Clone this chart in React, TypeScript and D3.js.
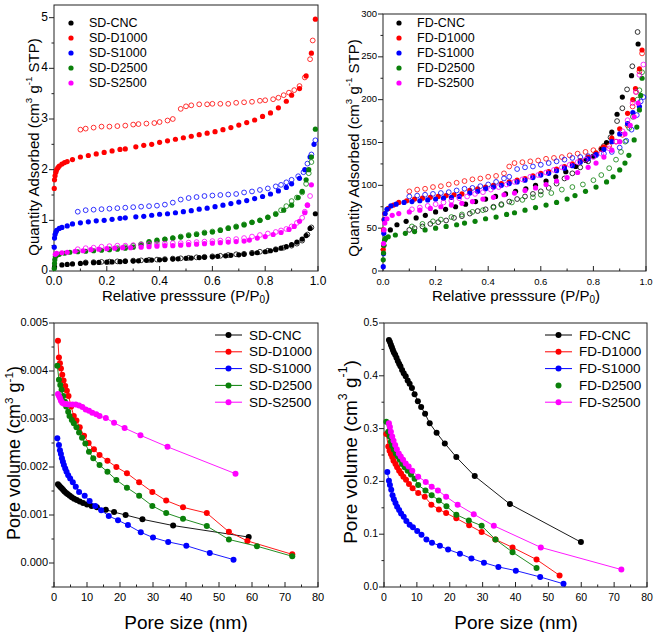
import React from 'react';
import * as d3 from 'd3';

// ---- top-left: SD isotherms, [P/P0, quantity] ----
const sdCncAds = [[0.002,0.08],[0.03,0.12],[0.05,0.13],[0.07,0.14],[0.1,0.15],[0.12,0.16],[0.15,0.165],[0.17,0.17],[0.2,0.175],[0.22,0.18],[0.25,0.185],[0.27,0.19],[0.3,0.195],[0.32,0.2],[0.35,0.21],[0.37,0.215],[0.4,0.22],[0.42,0.225],[0.45,0.235],[0.47,0.24],[0.5,0.25],[0.52,0.255],[0.55,0.265],[0.57,0.27],[0.6,0.28],[0.62,0.29],[0.65,0.3],[0.67,0.31],[0.7,0.32],[0.72,0.33],[0.75,0.345],[0.77,0.36],[0.8,0.38],[0.82,0.4],[0.84,0.42],[0.86,0.45],[0.88,0.48],[0.9,0.52],[0.92,0.57],[0.94,0.63],[0.955,0.7],[0.97,0.84],[0.99,1.13]];
const sdCncDes = [[0.975,0.86],[0.96,0.72],[0.94,0.6],[0.92,0.54],[0.9,0.5],[0.87,0.46],[0.84,0.43],[0.81,0.4],[0.78,0.38],[0.75,0.36],[0.72,0.34],[0.69,0.33],[0.66,0.315],[0.63,0.3],[0.6,0.29],[0.57,0.28],[0.54,0.27],[0.51,0.26],[0.48,0.25],[0.45,0.245],[0.42,0.235],[0.39,0.225],[0.36,0.22],[0.33,0.21],[0.3,0.205],[0.27,0.195],[0.24,0.19],[0.21,0.185],[0.18,0.18],[0.15,0.175],[0.12,0.17]];
const sdD1000Ads = [[0.001,1.63],[0.002,1.8],[0.004,1.88],[0.007,1.95],[0.01,2.0],[0.015,2.04],[0.02,2.07],[0.03,2.11],[0.04,2.14],[0.05,2.16],[0.07,2.2],[0.1,2.25],[0.13,2.28],[0.16,2.31],[0.19,2.34],[0.22,2.37],[0.25,2.4],[0.27,2.41],[0.31,2.45],[0.34,2.48],[0.37,2.5],[0.4,2.54],[0.43,2.57],[0.46,2.6],[0.49,2.63],[0.52,2.66],[0.55,2.69],[0.58,2.72],[0.61,2.75],[0.64,2.79],[0.67,2.83],[0.7,2.88],[0.73,2.93],[0.76,2.98],[0.79,3.05],[0.82,3.12],[0.85,3.22],[0.88,3.35],[0.9,3.47],[0.93,3.6],[0.955,3.85],[0.975,4.3],[0.99,4.97]];
const sdD1000Des = [[0.98,4.55],[0.97,4.18],[0.95,3.82],[0.93,3.65],[0.91,3.57],[0.89,3.52],[0.87,3.47],[0.85,3.42],[0.83,3.39],[0.8,3.37],[0.78,3.36],[0.75,3.34],[0.72,3.33],[0.69,3.32],[0.66,3.3],[0.63,3.3],[0.6,3.3],[0.58,3.29],[0.55,3.29],[0.52,3.27],[0.5,3.25],[0.48,3.2],[0.45,3.0],[0.43,2.97],[0.4,2.94],[0.38,2.92],[0.35,2.91],[0.32,2.9],[0.3,2.89],[0.27,2.87],[0.24,2.86],[0.21,2.85],[0.18,2.85],[0.15,2.83],[0.12,2.81],[0.1,2.79]];
const sdS1000Ads = [[0.001,0.47],[0.002,0.65],[0.004,0.72],[0.007,0.77],[0.01,0.8],[0.02,0.84],[0.03,0.86],[0.05,0.89],[0.07,0.93],[0.1,0.95],[0.13,0.97],[0.16,0.99],[0.19,1.0],[0.22,1.02],[0.25,1.04],[0.27,1.05],[0.31,1.07],[0.34,1.08],[0.37,1.1],[0.4,1.12],[0.43,1.13],[0.46,1.15],[0.49,1.17],[0.52,1.19],[0.55,1.22],[0.58,1.24],[0.61,1.27],[0.64,1.3],[0.67,1.33],[0.7,1.36],[0.73,1.39],[0.76,1.43],[0.79,1.47],[0.82,1.52],[0.85,1.58],[0.88,1.65],[0.9,1.72],[0.93,1.83],[0.95,2.0],[0.97,2.25],[0.985,2.5]];
const sdS1000Des = [[0.99,2.58],[0.975,2.3],[0.96,2.12],[0.945,1.95],[0.925,1.87],[0.9,1.8],[0.88,1.75],[0.86,1.7],[0.84,1.67],[0.81,1.63],[0.78,1.6],[0.75,1.57],[0.72,1.55],[0.69,1.52],[0.66,1.51],[0.63,1.5],[0.6,1.49],[0.57,1.48],[0.54,1.46],[0.51,1.44],[0.48,1.41],[0.45,1.35],[0.42,1.31],[0.39,1.29],[0.36,1.28],[0.33,1.27],[0.3,1.26],[0.27,1.25],[0.24,1.24],[0.21,1.23],[0.18,1.22],[0.15,1.21],[0.12,1.2],[0.09,1.17]];
const sdD2500Ads = [[0.001,0.05],[0.002,0.15],[0.003,0.22],[0.005,0.28],[0.01,0.31],[0.02,0.33],[0.04,0.35],[0.06,0.37],[0.09,0.38],[0.12,0.39],[0.15,0.4],[0.18,0.41],[0.21,0.42],[0.24,0.43],[0.27,0.45],[0.3,0.47],[0.33,0.52],[0.36,0.58],[0.39,0.61],[0.42,0.63],[0.45,0.65],[0.48,0.67],[0.51,0.7],[0.54,0.72],[0.57,0.75],[0.6,0.77],[0.63,0.8],[0.66,0.84],[0.69,0.87],[0.72,0.91],[0.75,0.96],[0.78,1.0],[0.81,1.06],[0.84,1.12],[0.87,1.2],[0.9,1.3],[0.925,1.45],[0.94,1.57],[0.955,1.8],[0.965,2.0],[0.975,2.25],[0.99,2.8]];
const sdD2500Des = [[0.975,2.15],[0.965,1.93],[0.955,1.72],[0.94,1.55],[0.92,1.45],[0.9,1.38],[0.88,1.28],[0.86,1.2],[0.84,1.13],[0.81,1.06],[0.78,1.0],[0.75,0.96],[0.72,0.92],[0.69,0.88],[0.66,0.85],[0.63,0.81],[0.6,0.78],[0.57,0.76],[0.54,0.73],[0.51,0.71],[0.48,0.68],[0.45,0.65],[0.42,0.62],[0.39,0.59],[0.36,0.56],[0.33,0.53],[0.3,0.5],[0.27,0.47],[0.24,0.45],[0.21,0.43]];
const sdS2500Ads = [[0.005,0.33],[0.01,0.35],[0.03,0.36],[0.05,0.37],[0.08,0.39],[0.11,0.4],[0.14,0.42],[0.17,0.43],[0.2,0.44],[0.23,0.45],[0.26,0.46],[0.29,0.46],[0.33,0.47],[0.36,0.48],[0.39,0.49],[0.42,0.5],[0.45,0.5],[0.48,0.51],[0.51,0.52],[0.54,0.53],[0.57,0.54],[0.6,0.55],[0.63,0.56],[0.66,0.57],[0.69,0.58],[0.72,0.59],[0.74,0.61],[0.77,0.65],[0.8,0.68],[0.83,0.72],[0.86,0.76],[0.89,0.82],[0.91,0.88],[0.93,0.98],[0.95,1.15],[0.96,1.3],[0.975,1.7]];
const sdS2500Des = [[0.97,1.48],[0.96,1.3],[0.95,1.17],[0.94,1.05],[0.92,0.95],[0.9,0.88],[0.88,0.83],[0.86,0.8],[0.84,0.77],[0.81,0.74],[0.78,0.71],[0.75,0.68],[0.72,0.65],[0.69,0.63],[0.66,0.62],[0.63,0.6],[0.6,0.59],[0.57,0.58],[0.54,0.57],[0.51,0.56],[0.48,0.55],[0.45,0.55],[0.42,0.54],[0.39,0.53],[0.36,0.53],[0.33,0.52],[0.3,0.51],[0.27,0.5],[0.24,0.5],[0.21,0.49],[0.18,0.48],[0.15,0.46],[0.12,0.45],[0.09,0.43]];

// ---- top-right: FD isotherms ----
const fdCncAds = [[0.003,30],[0.028,48],[0.053,54],[0.088,58],[0.126,62],[0.161,65],[0.2,69],[0.238,72],[0.276,75],[0.314,78],[0.352,81],[0.39,84],[0.428,87],[0.466,90],[0.504,93],[0.543,96],[0.58,100],[0.62,105],[0.657,110],[0.695,116],[0.733,122],[0.771,129],[0.8,134],[0.83,142],[0.85,150],[0.87,162],[0.89,183],[0.91,203],[0.945,228],[0.97,265]];
const fdCncDes = [[0.968,279],[0.948,239],[0.928,212],[0.91,190],[0.89,175],[0.865,156],[0.84,146],[0.81,137],[0.78,128],[0.75,121],[0.72,114],[0.69,108],[0.66,102],[0.63,97],[0.6,93],[0.57,90],[0.54,87],[0.51,84],[0.48,81],[0.45,78],[0.42,75],[0.39,72],[0.36,70],[0.33,67],[0.3,64],[0.27,62],[0.24,59],[0.21,57],[0.18,55],[0.15,52],[0.12,50],[0.1,48]];
const fdD1000Ads = [[0.001,25],[0.002,48],[0.004,60],[0.007,67],[0.02,73],[0.04,77],[0.06,80],[0.09,82],[0.12,84],[0.15,85],[0.18,86],[0.21,87],[0.24,88],[0.27,89],[0.3,90],[0.33,94],[0.36,96],[0.39,98],[0.42,100],[0.45,102],[0.48,104],[0.51,106],[0.54,108],[0.57,111],[0.6,114],[0.63,116],[0.66,119],[0.69,122],[0.72,125],[0.75,129],[0.78,133],[0.81,138],[0.84,145],[0.87,155],[0.9,166],[0.93,184],[0.95,200],[0.96,213],[0.975,236],[0.985,258]];
const fdD1000Des = [[0.985,254],[0.975,233],[0.962,209],[0.949,192],[0.93,170],[0.911,159],[0.886,151],[0.86,146],[0.83,143],[0.8,141],[0.77,139],[0.74,137],[0.71,135],[0.68,133],[0.65,132],[0.62,131],[0.59,129],[0.56,128],[0.53,127],[0.5,126],[0.48,122],[0.46,114],[0.43,111],[0.4,110],[0.37,108],[0.34,107],[0.31,105],[0.28,103],[0.25,101],[0.22,99],[0.19,98],[0.16,96],[0.13,95],[0.1,93]];
const fdS1000Ads = [[0.001,5],[0.002,20],[0.003,44],[0.005,60],[0.008,67],[0.015,72],[0.03,76],[0.05,78],[0.08,80],[0.11,81],[0.14,82],[0.17,83],[0.2,84],[0.23,85],[0.26,86],[0.29,87],[0.33,91],[0.36,93],[0.39,96],[0.42,98],[0.45,100],[0.48,102],[0.51,104],[0.54,106],[0.57,109],[0.6,112],[0.63,114],[0.66,117],[0.69,120],[0.72,123],[0.75,127],[0.78,131],[0.81,136],[0.84,142],[0.87,151],[0.9,160],[0.93,172],[0.95,185],[0.975,192]];
const fdS1000Des = [[0.99,203],[0.98,198],[0.965,182],[0.945,165],[0.925,152],[0.9,144],[0.87,139],[0.84,137],[0.81,135],[0.78,134],[0.75,133],[0.72,132],[0.69,130],[0.66,128],[0.63,126],[0.6,124],[0.57,122],[0.54,121],[0.51,119],[0.48,110],[0.46,108],[0.43,104],[0.4,101],[0.37,99],[0.34,97],[0.31,96],[0.28,94],[0.25,92],[0.22,91],[0.19,90],[0.16,89],[0.13,88],[0.1,87]];
const fdD2500Ads = [[0.001,13],[0.002,21],[0.003,30],[0.006,36],[0.01,38],[0.02,40],[0.047,42],[0.085,44],[0.12,46],[0.16,48],[0.2,50],[0.24,52],[0.28,54],[0.31,56],[0.35,58],[0.39,61],[0.43,63],[0.47,66],[0.5,68],[0.54,71],[0.58,74],[0.62,77],[0.66,80],[0.7,84],[0.73,88],[0.77,93],[0.81,98],[0.85,104],[0.875,110],[0.9,118],[0.92,126],[0.935,135],[0.955,153],[0.965,168],[0.975,188],[0.98,205],[0.985,225]];
const fdD2500Des = [[0.985,232],[0.975,211],[0.968,200],[0.95,180],[0.936,167],[0.921,151],[0.905,139],[0.886,130],[0.86,120],[0.83,112],[0.8,106],[0.76,101],[0.72,98],[0.68,95],[0.64,91],[0.6,89],[0.57,86],[0.53,83],[0.49,80],[0.45,77],[0.42,74],[0.38,71],[0.34,69],[0.3,66],[0.26,63],[0.22,60],[0.19,58],[0.15,55],[0.11,52]];
const fdS2500Ads = [[0.002,32],[0.004,48],[0.007,56],[0.015,61],[0.035,65],[0.06,67],[0.1,69],[0.14,71],[0.18,73],[0.22,75],[0.26,77],[0.3,79],[0.34,81],[0.38,84],[0.42,86],[0.46,89],[0.5,91],[0.54,94],[0.58,97],[0.62,101],[0.66,105],[0.7,109],[0.74,115],[0.78,121],[0.81,126],[0.84,133],[0.87,141],[0.9,151],[0.92,160],[0.94,170],[0.955,180],[0.97,196]];
const fdS2500Des = [[0.99,241],[0.975,229],[0.962,209],[0.949,196],[0.93,176],[0.911,163],[0.886,151],[0.86,143],[0.83,137],[0.8,133],[0.77,130],[0.74,127],[0.71,124],[0.68,121],[0.65,118],[0.62,115],[0.59,112],[0.56,110],[0.53,107],[0.5,104],[0.47,101],[0.44,98],[0.41,95],[0.38,92],[0.35,90],[0.32,87],[0.29,85],[0.26,82],[0.23,80],[0.2,78],[0.17,76],[0.14,74],[0.11,72]];

// ---- bottom-left: SD pore size distribution, [nm, cm3/g] ----
const sdCncPsd = [[1.2,0.00164],[1.6,0.00161],[2.0,0.00158],[2.4,0.00155],[2.8,0.00152],[3.2,0.00149],[3.7,0.00146],[4.2,0.00143],[4.8,0.0014],[5.4,0.00137],[6.1,0.00134],[6.9,0.00131],[7.8,0.00128],[8.8,0.00125],[10,0.00122],[11.4,0.00119],[13,0.00116],[15.7,0.00111],[18.2,0.00106],[21.7,0.001],[26.8,0.00091],[36.1,0.00078],[59,0.00054]];
const sdD1000Psd = [[1.2,0.00463],[1.5,0.00428],[1.8,0.00416],[2.1,0.00405],[2.5,0.00392],[2.9,0.0038],[3.4,0.00369],[3.9,0.00359],[4.4,0.00348],[5.2,0.00326],[6,0.00306],[6.8,0.00297],[7.8,0.00283],[9.1,0.00265],[10.5,0.0025],[12.1,0.00237],[13.8,0.00225],[16.2,0.00213],[18.9,0.002],[22.1,0.00187],[25.8,0.00168],[29.8,0.00148],[34,0.0013],[39.1,0.00116],[46.3,0.00104],[53,0.00065],[58.6,0.00046],[72.2,0.00018]];
const sdS1000Psd = [[1,0.0026],[1.5,0.00246],[1.8,0.00235],[2.1,0.00227],[2.4,0.00218],[2.7,0.00211],[3,0.00204],[3.4,0.00197],[3.8,0.0019],[4.3,0.00183],[4.9,0.00176],[5.7,0.00168],[6.6,0.00159],[7.6,0.00148],[9.3,0.0014],[10.8,0.00129],[12.5,0.00119],[14.3,0.0011],[16.6,0.00098],[19.4,0.00089],[22.4,0.00079],[26.3,0.00064],[30,0.00053],[34.6,0.00044],[40.1,0.00036],[47.2,0.00021],[54.4,0.00007]];
const sdD2500Psd = [[1,0.00411],[1.5,0.00382],[1.9,0.00371],[2.3,0.00361],[2.8,0.00348],[3.3,0.00336],[3.7,0.00326],[4.3,0.00315],[4.7,0.00306],[5.4,0.00298],[6,0.00291],[6.8,0.00283],[7.6,0.00272],[8.5,0.00261],[9.5,0.00249],[10.6,0.00232],[11.9,0.00218],[13.8,0.00204],[16.2,0.0019],[18.9,0.00173],[22.1,0.00157],[25.8,0.0014],[29.8,0.00119],[34,0.00104],[39.1,0.00092],[46.3,0.00077],[53,0.00049],[61.5,0.00035],[72.2,0.00014]];
const sdS2500Psd = [[1.2,0.00352],[1.5,0.00348],[1.8,0.00344],[2.1,0.00338],[2.5,0.00334],[3,0.00332],[3.7,0.00331],[4.5,0.0033],[5.6,0.0033],[6.6,0.0033],[7.6,0.00328],[8.6,0.00325],[9.6,0.0032],[10.6,0.00317],[11.6,0.00313],[12.8,0.0031],[13.8,0.00306],[15.7,0.00302],[18.2,0.00292],[21.4,0.00281],[26.2,0.00266],[34.4,0.00242],[55,0.00186]];

// ---- bottom-right: FD pore size distribution ----
const fdCncPsd = [[1.5,0.468],[1.8,0.464],[2.1,0.459],[2.4,0.454],[2.7,0.449],[3,0.444],[3.4,0.44],[3.8,0.434],[4.2,0.428],[4.6,0.423],[5,0.418],[5.5,0.411],[6,0.405],[6.6,0.399],[7.2,0.391],[7.8,0.385],[8.5,0.377],[9.3,0.365],[10.3,0.352],[11.3,0.341],[12.5,0.328],[13.9,0.31],[16,0.292],[18.5,0.272],[22,0.246],[27.6,0.21],[38.3,0.157],[59.9,0.085]];
const fdD1000Psd = [[0.7,0.29],[1.3,0.266],[1.7,0.258],[2.1,0.252],[2.5,0.246],[2.9,0.239],[3.5,0.233],[4,0.227],[4.6,0.22],[5.2,0.215],[5.9,0.209],[6.7,0.203],[7.6,0.195],[8.7,0.187],[10.4,0.178],[12.4,0.171],[14.4,0.156],[16.7,0.147],[18.9,0.14],[22,0.13],[25.9,0.117],[29.7,0.104],[33.9,0.09],[39.1,0.075],[46.4,0.052],[53.4,0.022]];
const fdS1000Psd = [[1,0.218],[1.5,0.201],[1.8,0.193],[2.2,0.184],[2.6,0.174],[3,0.166],[3.5,0.159],[4,0.152],[4.6,0.146],[5.2,0.139],[6,0.133],[6.8,0.125],[7.8,0.118],[8.8,0.113],[10.1,0.106],[11.4,0.099],[12.9,0.09],[14.6,0.084],[17,0.078],[19.5,0.071],[23.1,0.063],[26.6,0.054],[30.4,0.046],[34.8,0.038],[40.1,0.031],[47.5,0.019],[54.6,0.006]];
const fdD2500Psd = [[0.7,0.313],[1.3,0.294],[1.7,0.285],[2.1,0.275],[2.5,0.267],[3,0.26],[3.6,0.253],[4.2,0.247],[4.8,0.241],[5.5,0.233],[6.3,0.227],[7.2,0.22],[8.2,0.213],[9.3,0.205],[10.4,0.193],[12.6,0.183],[14.5,0.174],[16.7,0.164],[19,0.153],[22,0.137],[25.8,0.126],[29.7,0.116],[33.9,0.09],[39.1,0.066],[46.4,0.036]];
const fdS2500Psd = [[1.5,0.31],[1.8,0.303],[2.1,0.294],[2.5,0.285],[2.9,0.277],[3.4,0.269],[3.9,0.261],[4.5,0.253],[5.1,0.247],[5.8,0.241],[6.6,0.234],[7.5,0.228],[8.6,0.22],[10.4,0.209],[12.7,0.199],[14.5,0.19],[16.4,0.183],[18.9,0.171],[22.4,0.156],[27.3,0.138],[33.4,0.116],[47.7,0.075],[72.2,0.033]];

const sdNames = ['SD-CNC', 'SD-D1000', 'SD-S1000', 'SD-D2500', 'SD-S2500'];
const fdNames = ['FD-CNC', 'FD-D1000', 'FD-S1000', 'FD-D2500', 'FD-S2500'];
const colors = ['#000000', '#ff0000', '#0000ff', '#0a800a', '#ff00ff'];

const sdIso = [[sdCncAds, sdCncDes], [sdD1000Ads, sdD1000Des], [sdS1000Ads, sdS1000Des], [sdD2500Ads, sdD2500Des], [sdS2500Ads, sdS2500Des]];
const fdIso = [[fdCncAds, fdCncDes], [fdD1000Ads, fdD1000Des], [fdS1000Ads, fdS1000Des], [fdD2500Ads, fdD2500Des], [fdS2500Ads, fdS2500Des]];
const sdPsd = [sdCncPsd, sdD1000Psd, sdS1000Psd, sdD2500Psd, sdS2500Psd];
const fdPsd = [fdCncPsd, fdD1000Psd, fdS1000Psd, fdD2500Psd, fdS2500Psd];

const FONT = 'Arial, "Liberation Sans", Helvetica, sans-serif';

type Box = { l: number; r: number; t: number; b: number };

// frame + ticks (y ticks outside, x ticks inside, like Origin)
function Axes({ box, x, y, xMaj, xMin, yMaj, yMin, xFmt, yFmt, fs, xLabDy }: any) {
  const { l, r, t, b } = box;
  return (
    <g fontFamily={FONT} fill="#000">
      <rect x={l} y={t} width={r - l} height={b - t} fill="none" stroke="#222" strokeWidth={1} />
      {xMin.map((v: number, i: number) => (
        <line key={'xm' + i} x1={x(v)} x2={x(v)} y1={b} y2={b - 2.5} stroke="#222" />
      ))}
      {xMaj.map((v: number, i: number) => (
        <g key={'xM' + i}>
          <line x1={x(v)} x2={x(v)} y1={b} y2={b - 5} stroke="#222" />
          <text x={x(v)} y={b + xLabDy} fontSize={fs} textAnchor="middle" dominantBaseline="central">{xFmt(v)}</text>
        </g>
      ))}
      {yMin.map((v: number, i: number) => (
        <line key={'ym' + i} x1={l} x2={l - 2.5} y1={y(v)} y2={y(v)} stroke="#222" />
      ))}
      {yMaj.map((v: number, i: number) => (
        <g key={'yM' + i}>
          <line x1={l} x2={l - 5} y1={y(v)} y2={y(v)} stroke="#222" />
          <text x={l - 6} y={y(v) - 1} fontSize={fs} textAnchor="end" dominantBaseline="central">{yFmt(v)}</text>
        </g>
      ))}
    </g>
  );
}

function Isotherm({ box, yd, yMaj, yMin, yFmt, fs, iso, names, legX }: any) {
  const x = d3.scaleLinear().domain([0, 1]).range([box.l, box.r]);
  const y = d3.scaleLinear().domain(yd).range([box.b, box.t]);
  return (
    <g>
      <Axes box={box} x={x} y={y} xMaj={d3.range(0, 1.01, 0.2)} xMin={d3.range(0.1, 1, 0.2)}
        yMaj={yMaj} yMin={yMin} xFmt={d3.format('.1f')} yFmt={yFmt} fs={fs} xLabDy={10} />
      {iso.map((s: number[][][], i: number) => (
        <g key={i}>
          {s[1].map((d, j) => (
            <circle key={'d' + j} cx={x(d[0])} cy={y(d[1])} r={2.4} fill="none" stroke={colors[i]} strokeWidth={0.8} />
          ))}
          {s[0].map((d, j) => (
            <circle key={'a' + j} cx={x(d[0])} cy={y(d[1])} r={2.6} fill={colors[i]} />
          ))}
        </g>
      ))}
      {names.map((n: string, i: number) => (
        <g key={n} fontFamily={FONT}>
          <circle cx={legX} cy={23 + i * 15} r={2.6} fill={colors[i]} />
          <text x={legX + 18} y={23 + i * 15} fontSize={12.5} dominantBaseline="central">{n}</text>
        </g>
      ))}
    </g>
  );
}

function Psd({ box, yd, yMaj, yMin, yFmt, fs, series, names, legX, noLine }: any) {
  const x = d3.scaleLinear().domain([0, 80]).range([box.l, box.r]);
  const y = d3.scaleLinear().domain(yd).range([box.b, box.t]);
  const line = d3.line<number[]>().x((d) => x(d[0])).y((d) => y(d[1]));
  return (
    <g>
      <Axes box={box} x={x} y={y} xMaj={d3.range(0, 81, 10)} xMin={d3.range(5, 80, 10)}
        yMaj={yMaj} yMin={yMin} xFmt={d3.format('d')} yFmt={yFmt} fs={fs} xLabDy={10} />
      {series.map((s: number[][], i: number) => (
        <g key={i}>
          <path d={line(s) || ''} fill="none" stroke={colors[i]} strokeWidth={0.9} />
          {s.map((d, j) => (
            <circle key={j} cx={x(d[0])} cy={y(d[1])} r={3} fill={colors[i]} />
          ))}
        </g>
      ))}
      {names.map((n: string, i: number) => {
        const ly = 335 + i * 16.8;
        return (
          <g key={n} fontFamily={FONT}>
            {noLine !== i && <line x1={legX} x2={legX + 27} y1={ly} y2={ly} stroke={colors[i]} strokeWidth={1} />}
            <circle cx={legX + 13.5} cy={ly} r={3} fill={colors[i]} />
            <text x={legX + 34} y={ly} fontSize={13.5} dominantBaseline="central">{n}</text>
          </g>
        );
      })}
    </g>
  );
}

function YTitle({ cx, cy, fs, tail }: any) {
  const s = fs * 0.65;
  return (
    <text transform={`translate(${cx},${cy}) rotate(-90)`} textAnchor="middle" dominantBaseline="central" fontSize={fs} fontFamily={FONT}>
      {tail[0]}(cm<tspan dy={-fs * 0.35} fontSize={s}>3</tspan>
      <tspan dy={fs * 0.35}> g</tspan>
      <tspan dy={-fs * 0.35} fontSize={s}>-1</tspan>
      <tspan dy={fs * 0.35}>{tail[1]}</tspan>
    </text>
  );
}

function XTitleP({ cx, cy }: any) {
  return (
    <text x={cx} y={cy} textAnchor="middle" dominantBaseline="central" fontSize={15} fontFamily={FONT}>
      Relative presssure (P/P<tspan dy={4} fontSize={10}>0</tspan><tspan dy={-4}>)</tspan>
    </text>
  );
}

export default function App() {
  const p1: Box = { l: 54, r: 318, t: 5, b: 271 };
  const p2: Box = { l: 383, r: 646, t: 14, b: 271 };
  const p3: Box = { l: 54, r: 318, t: 323, b: 587 };
  const p4: Box = { l: 384, r: 647, t: 323, b: 587 };
  return (
    <svg width={657} height={632} style={{ position: 'absolute', left: 0, top: 0, background: '#fff' }}>
      <rect width={657} height={632} fill="#fff" />
      <Isotherm box={p1} yd={[0, 5.25]} yMaj={d3.range(0, 5.1, 1)} yMin={d3.range(0.5, 5.2, 1)}
        yFmt={d3.format('d')} fs={12} iso={sdIso} names={sdNames} legX={71} />
      <Isotherm box={p2} yd={[0, 300]} yMaj={d3.range(0, 301, 50)} yMin={d3.range(25, 300, 50)}
        yFmt={d3.format('d')} fs={9.5} iso={fdIso} names={fdNames} legX={399} />
      <Psd box={p3} yd={[-0.0005, 0.005]} yMaj={d3.range(0, 0.00501, 0.001)} yMin={d3.range(-0.0005, 0.005, 0.001)}
        yFmt={d3.format('.3f')} fs={11} series={sdPsd} names={sdNames} legX={215} noLine={-1} />
      <Psd box={p4} yd={[0, 0.5]} yMaj={d3.range(0, 0.501, 0.1)} yMin={d3.range(0.05, 0.5, 0.1)}
        yFmt={d3.format('.1f')} fs={10.5} series={fdPsd} names={fdNames} legX={545} noLine={3} />

      <YTitle cx={33} cy={147} fs={15} tail={['Quantity Adsorbed ', ' STP)']} />
      <YTitle cx={353} cy={148} fs={15} tail={['Quantity Adsorbed ', ' STP)']} />
      <XTitleP cx={186} cy={295} />
      <XTitleP cx={516} cy={295} />
      <YTitle cx={14} cy={453} fs={18} tail={['Pore volume ', ')']} />
      <YTitle cx={350} cy={452} fs={19} tail={['Pore volume ', ')']} />
      <text x={186} y={622} textAnchor="middle" dominantBaseline="central" fontSize={19} fontFamily={FONT}>Pore size (nm)</text>
      <text x={516} y={622} textAnchor="middle" dominantBaseline="central" fontSize={19} fontFamily={FONT}>Pore size (nm)</text>
    </svg>
  );
}
